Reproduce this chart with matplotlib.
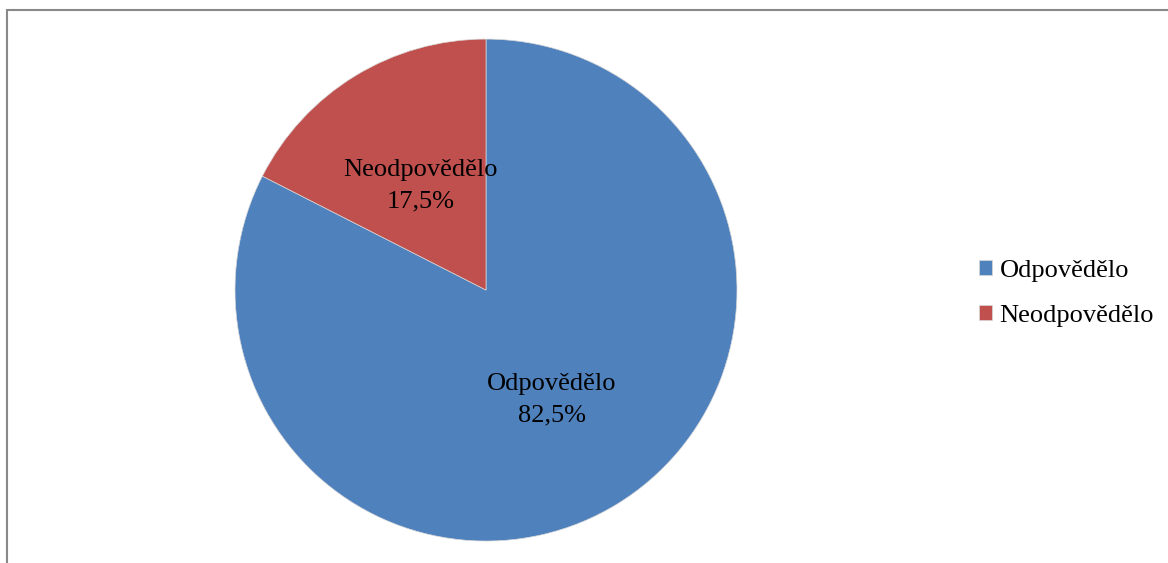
import matplotlib.pyplot as plt
from matplotlib.patches import Rectangle

labels = ["Odpovědělo", "Neodpovědělo"]
values = [82.5, 17.5]
colors = ["#4F81BD", "#C0504D"]

plt.rcParams['font.family'] = ['Liberation Serif', 'DejaVu Serif']

fig = plt.figure(figsize=(11.68, 5.63), dpi=100)

# outer frame (cut by the image on the right and bottom)
fig.patches.append(Rectangle((7 / 1168, -0.1), 1.2, (563 - 10) / 563 + 0.1,
                             transform=fig.transFigure, fill=False,
                             edgecolor="#898989", linewidth=1.5))

ax = fig.add_axes([0.2012, 0.039, 0.4298, 0.8916])


def fmt(pct):
    i = min(range(len(values)), key=lambda k: abs(values[k] - pct))
    return labels[i] + "\n" + ("%.1f%%" % values[i]).replace(".", ",")


wedges, texts, autotexts = ax.pie(values, colors=colors, startangle=90,
                                  counterclock=False, autopct=fmt,
                                  pctdistance=0.5, radius=1,
                                  wedgeprops=dict(edgecolor="#d8d8d8", linewidth=0.5),
                                  textprops=dict(fontsize=19, color="black",
                                                 linespacing=1.55))
ax.set_xlim(-1, 1)
ax.set_ylim(-1, 1)
ax.set_aspect("equal")
for w in wedges:
    w.set_clip_on(False)
# nudge the labels a few pixels down
for t in autotexts:
    x, y = t.get_position()
    t.set_position((x, y - 0.012))

fig.legend(wedges, labels, loc="center left", bbox_to_anchor=(0.8175, 0.479),
           frameon=False, fontsize=19, handlelength=0.5, handleheight=0.5,
           handletextpad=0.3, labelspacing=0.87)

fig.savefig("out.png", dpi=100)
